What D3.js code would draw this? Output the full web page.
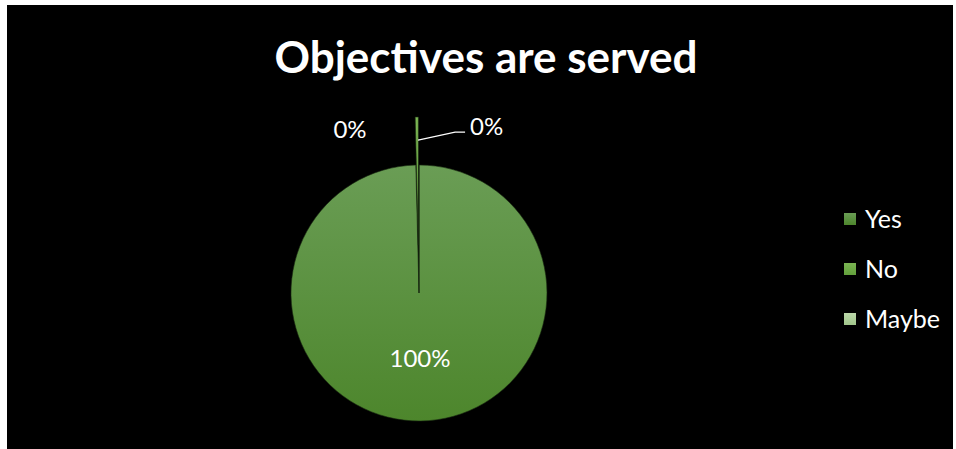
<!DOCTYPE html>
<html>
<head>
<meta charset="utf-8">
<script src="https://cdn.jsdelivr.net/npm/d3@7"></script>
<style>
	html, body { margin: 0; padding: 0; background: #fff; }
	svg { display: block; }
	text { font-family: Lato, "Open Sans", sans-serif; fill: #fff; }
</style>
</head>
<body>
<svg id="chart" width="956" height="449"></svg>
<script>
const categories = ['Yes', 'No', 'Maybe'];
const values = [99.6, 0.4, 0];
const colors = [['#6a9d55', '#4d862c'], ['#7bb553', '#62a03b'], ['#bcd8aa', '#a0c58a']];
const title = 'Objectives are served';

const svg = d3.select('#chart');

svg.append('rect')
	.attr('x', 7).attr('y', 5)
	.attr('width', 946).attr('height', 444)
	.attr('fill', '#000');

// gradients like the office fill
const defs = svg.append('defs');
colors.forEach((c, i) => {
	const g = defs.append('linearGradient')
		.attr('id', `grad${i}`)
		.attr('x1', 0).attr('y1', 0).attr('x2', 0).attr('y2', 1);
	g.append('stop').attr('offset', '0%').attr('stop-color', c[0]);
	g.append('stop').attr('offset', '100%').attr('stop-color', c[1]);
});

svg.append('text')
	.attr('x', 486).attr('y', 73)
	.attr('text-anchor', 'middle')
	.attr('font-size', 44)
	.attr('font-weight', 'bold')
	.text(title);

const data = categories.map((c, i) => ({ cat: c, value: values[i], idx: i }));
const total = d3.sum(values);

const cx = 419, cy = 293, r = 128;
const explode = 48;

const pie = d3.pie().sort(null).value(d => d.value);
const arc = d3.arc().innerRadius(0).outerRadius(r);
const arcs = pie(data);

const g = svg.append('g').attr('transform', `translate(${cx}, ${cy})`);

const offset = (d) => {
	if (d.data.cat !== 'No') return [0, 0];
	const a = (d.startAngle + d.endAngle) / 2;
	return [Math.sin(a) * explode, -Math.cos(a) * explode];
};

g.selectAll('path')
	.data(arcs)
	.enter()
	.append('path')
	.attr('d', arc)
	.attr('transform', d => `translate(${offset(d)})`)
	.attr('fill', d => `url(#grad${d.data.idx})`)
	.attr('stroke', '#1a2a10')
	.attr('stroke-width', 0.6);

const pct = v => `${Math.round(v / total * 100)}%`;

// big slice label inside
const yes = arcs[0];
g.append('text')
	.attr('x', 1).attr('y', 74)
	.attr('text-anchor', 'middle')
	.attr('font-size', 24)
	.text(pct(yes.data.value));

// outer labels for the small slices
const no = arcs[1];
const noA = (no.startAngle + no.endAngle) / 2;
const noOff = offset(no);
const edge = [noOff[0] + Math.sin(noA) * r * 0.82, noOff[1] - Math.cos(noA) * r * 0.82];
const bend = [edge[0] + 38, edge[1] - 8];

g.append('path')
	.attr('d', d3.line()([[edge[0] + 1, edge[1]], bend, [bend[0] + 10, bend[1]]]))
	.attr('fill', 'none')
	.attr('stroke', '#fff')
	.attr('stroke-width', 1.2);

g.append('text')
	.attr('x', bend[0] + 15).attr('y', bend[1] + 3)
	.attr('font-size', 24)
	.text(pct(no.data.value));

const maybe = arcs[2];
const mA = maybe.startAngle;
g.append('text')
	.attr('x', Math.sin(mA) * (r + 48) - 69)
	.attr('y', -Math.cos(mA) * (r + 48) + 21)
	.attr('text-anchor', 'middle')
	.attr('font-size', 24)
	.text(pct(maybe.data.value));

// legend
const legendY = d3.scalePoint().domain(categories).range([219, 319]);
const leg = svg.selectAll('.leg')
	.data(data)
	.enter()
	.append('g')
	.attr('class', 'leg')
	.attr('transform', d => `translate(844, ${legendY(d.cat)})`);

leg.append('rect')
	.attr('x', 0).attr('y', -6)
	.attr('width', 12).attr('height', 12)
	.attr('fill', d => `url(#grad${d.idx})`);

leg.append('text')
	.attr('x', 21).attr('y', 9)
	.attr('font-size', 25)
	.text(d => d.cat);
</script>
</body>
</html>
